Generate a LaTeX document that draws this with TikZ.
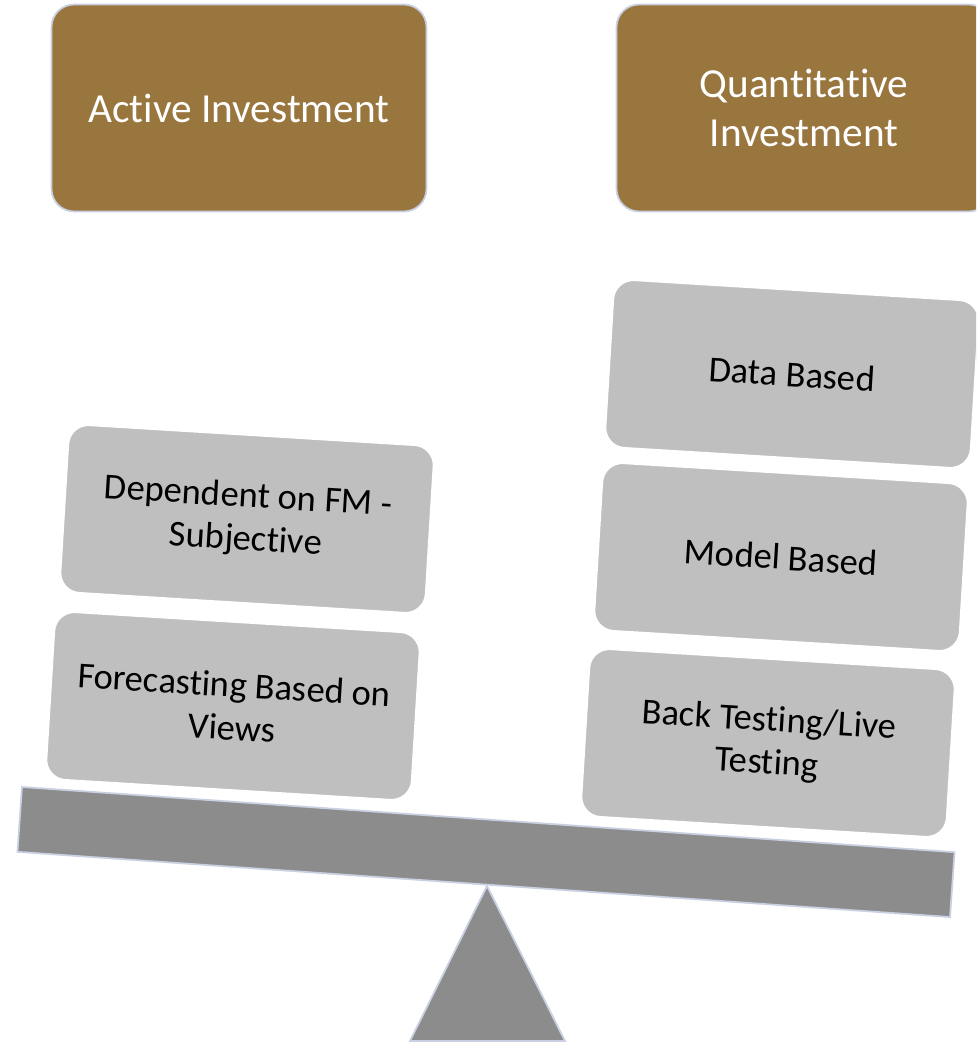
\documentclass[tikz,border=0pt]{standalone}
\usepackage{fontspec}
\setmainfont[Ligatures=NoCommon]{Carlito}
\definecolor{bronze}{HTML}{9A763F}
\definecolor{boxgray}{HTML}{BFBFBF}
\definecolor{beamgray}{HTML}{8C8C8C}
\definecolor{edgeblue}{HTML}{C9D0E3}
\begin{document}
\begin{tikzpicture}[x=0.02cm, y=-0.02cm,
	head/.style={rectangle, rounded corners=0.45cm, fill=bronze, draw=edgeblue, line width=1pt,
		minimum width=7.5cm, minimum height=4.14cm, text=white, align=center,
		font=\fontsize{23.5}{28}\selectfont},
	block/.style={rectangle, rounded corners=0.4cm, fill=boxgray, draw=white, line width=1pt,
		minimum width=7.32cm, minimum height=3.36cm, align=center, rotate=-3.5,
		font=\fontsize{20.8}{24.5}\selectfont}]
	\clip (0,0) rectangle (976,1043);
	
	%headings
	\node[head] (active) at (239,108) {Active Investment};
	\node[head] (quant) at (804,108) {Quantitative\\Investment};
	
	%fulcrum and beam
	\coordinate (apex) at (487,886);
	\draw[fill=beamgray, draw=edgeblue, line width=1pt] (apex) -- (565,1041) -- (410,1041) -- cycle;
	\node[rectangle, fill=beamgray, draw=edgeblue, line width=1pt, minimum width=18.7cm,
		minimum height=1.3cm, rotate=-4] (beam) at (486,852) {};
	
	%left pan
	\node[block] (subjective) at (247,519) {Dependent on FM -\\Subjective};
	\node[block] (views) at (233,706) {Forecasting Based on\\Views};
	
	%right pan
	\node[block] (data) at (792,374) {Data Based};
	\node[block] (model) at (781,557) {Model Based};
	\node[block] (testing) at (768,743) {Back Testing/Live\\Testing};
\end{tikzpicture}
\end{document}
